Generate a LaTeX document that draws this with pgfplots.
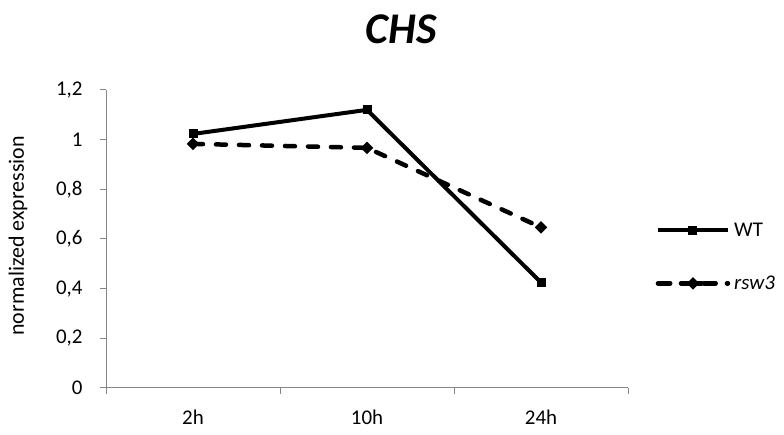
\documentclass[border=0pt]{standalone}
\usepackage{fontspec}
\setmainfont{Carlito}
\usepackage{pgfplots}
\pgfplotsset{compat=1.18}
\definecolor{axgray}{RGB}{134,134,134}
\pgfplotsset{
  solidlegend/.style={legend image code/.code={%
    \draw[mark repeat=2,mark phase=2,##1] plot coordinates {(0bp,0bp) (35bp,0bp) (70bp,0bp)};}},
  dashlegend/.style={legend image code/.code={%
    \draw[##1] (2.25bp,0bp) -- (12.75bp,0bp);
    \draw[##1, solid] (26.25bp,0bp) -- (43.75bp,0bp);
    \draw[##1] (49.25bp,0bp) -- (57.75bp,0bp);
    \draw[##1] plot[only marks] coordinates {(35bp,0bp)};
    \path (0bp,0bp) -- (70bp,0bp);}}}
\begin{document}
\begin{tikzpicture}
\path[use as bounding box] (-106bp,-47bp) rectangle (678bp,388bp);
\begin{axis}[
  at={(0,0)}, anchor=south west,
  scale only axis, width=522bp, height=298bp,
  xmin=0, xmax=3, ymin=0, ymax=1.2,
  axis x line*=bottom, axis y line*=left,
  axis line style={draw=axgray, line width=1bp, -},
  xtick={0.5,1.5,2.5}, xticklabels={2h,10h,24h},
  minor xtick={0,1,2,3},
  ytick={0,0.2,0.4,0.6,0.8,1,1.2},
  tick align=outside,
  major tick length=6bp, minor tick length=6bp,
  tick style={draw=axgray, line width=1bp},
  major x tick style={draw=none},
  ticklabel style={font=\fontsize{21}{25}\selectfont},
  /pgf/number format/use comma, /pgf/number format/fixed,
  /pgf/number format/precision=1, /pgf/number format/assume math mode=true,
  y tick label style={xshift=-14bp},
  x tick label style={yshift=-12bp},
  clip=false,
  legend style={at={(axis description cs:1.0527,0.44)}, anchor=west, draw=none, fill=none,
    font=\fontsize{21}{25}\selectfont, row sep=34bp, column sep=2bp, inner sep=0pt},
  legend cell align=left,
]
\addplot[black, line width=4bp, mark=square*, mark size=4bp, mark options={solid, line width=1bp}, solidlegend]
  coordinates {(0.5,1.023) (1.5,1.12) (2.5,0.425)};
\addlegendentry{WT}
\addplot[black, line width=4.5bp, dash pattern=on 10bp off 13bp, line cap=round, mark=square*, mark size=3.9bp, mark options={solid, rotate=45, line width=1bp}, dashlegend]
  coordinates {(0.5,0.983) (1.5,0.967) (2.5,0.647)};
\addlegendentry{\textit{rsw3}}
\end{axis}
\node[font=\fontsize{44}{50}\selectfont\bfseries\itshape] at (295bp,359bp) {CHS};
\node[rotate=90, font=\fontsize{22}{26}\selectfont] at (-88bp,152bp) {normalized expression};
\end{tikzpicture}
\end{document}
